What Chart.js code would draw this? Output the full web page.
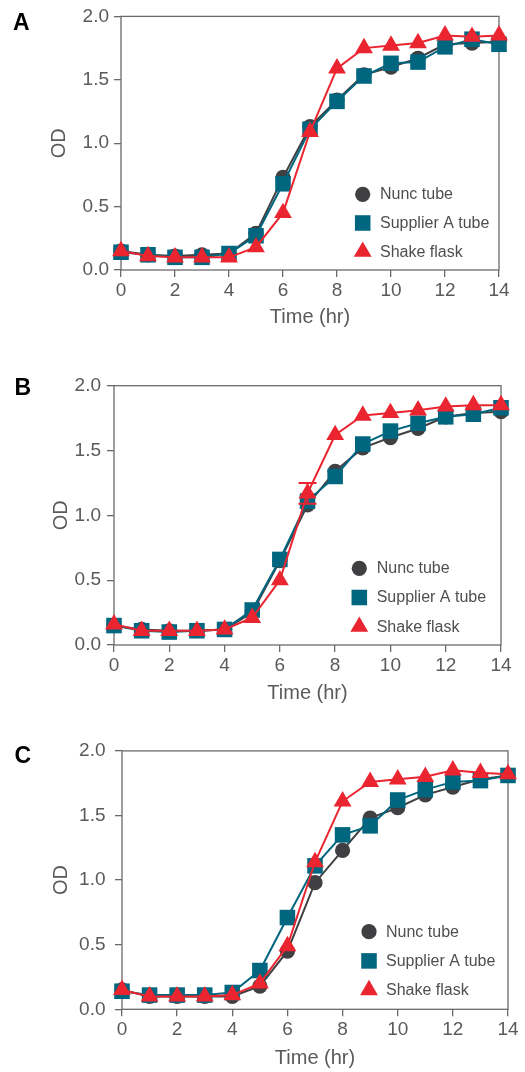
<!DOCTYPE html>
<html><head><meta charset="utf-8">
<script src="https://cdn.jsdelivr.net/npm/chart.js@4/dist/chart.umd.min.js"></script>
<style>
html,body{margin:0;padding:0;background:#fff;}
#wrap{position:relative;width:525px;height:1072px;overflow:hidden;background:#fff;}
canvas{position:absolute;left:0;}
</style></head>
<body><div id="wrap">
<canvas id="cA"></canvas><canvas id="cB"></canvas><canvas id="cC"></canvas>
</div>
<script>
// ---- data ----
const times = [0,1,2,3,4,5,6,7,8,9,10,11,12,13,14];
const xTickLabels = [0,2,4,6,8,10,12,14];
const yTickLabels = [0.0,0.5,1.0,1.5,2.0];
const seriesNames = ['Nunc tube','Supplier A tube','Shake flask'];
const panelLetters = ['A','B','C'];
const xTitle = 'Time (hr)';
const yTitle = 'OD';

const nuncA  = [0.15,0.12,0.11,0.12,0.13,0.29,0.73,1.13,1.34,1.54,1.60,1.67,1.78,1.79,1.80];
const suppA  = [0.14,0.12,0.10,0.10,0.13,0.27,0.68,1.11,1.33,1.53,1.63,1.64,1.76,1.82,1.78];
const shakeA = [0.15,0.11,0.10,0.10,0.10,0.18,0.45,1.09,1.59,1.75,1.77,1.79,1.85,1.84,1.85];

const nuncB  = [0.15,0.12,0.11,0.11,0.12,0.25,0.65,1.08,1.34,1.52,1.60,1.67,1.76,1.79,1.80];
const suppB  = [0.15,0.11,0.10,0.11,0.12,0.27,0.66,1.11,1.30,1.55,1.65,1.71,1.76,1.78,1.83];
const shakeB = [0.16,0.11,0.11,0.11,0.12,0.21,0.50,1.17,1.62,1.77,1.79,1.81,1.84,1.85,1.85];
const shakeErrB = [0,0,0,0,0,0,0,0.08,0,0,0,0,0,0,0];

const nuncC  = [0.15,0.10,0.10,0.10,0.10,0.18,0.45,0.98,1.23,1.48,1.56,1.66,1.72,1.78,1.81];
const suppC  = [0.14,0.11,0.11,0.11,0.13,0.30,0.71,1.11,1.35,1.42,1.62,1.70,1.76,1.77,1.81];
const shakeC = [0.15,0.10,0.10,0.10,0.11,0.20,0.49,1.14,1.61,1.76,1.78,1.80,1.85,1.83,1.82];

// ---- styles ----
const FONT = "'Liberation Sans', Arial, Helvetica, sans-serif";
const TEXT = '#5a5a5a';
const AXIS = '#6a6a6a';
const COLORS = ['#404043', '#00667f', '#ea2530'];
const STYLES = ['circle', 'rect', 'triangle'];
const RADII = [7.6, 11, 10.3];
const ORDERS = [3, 2, 1];

const layouts = [
  {id:'cA', top:0,   H:335, L:121, T:16,   R:499, B:270,   xTitleY:317.5, yTitleX:59, yPad:5,
   leg:{mx:362.7, tx:380, y0:194.3, dy:28.7}, lab:{x:13, base:30}},
  {id:'cB', top:360, H:350, L:114, T:25.7, R:501, B:285,   xTitleY:333.8, yTitleX:61, yPad:6,
   leg:{mx:359.3, tx:376.7, y0:208.3, dy:29.2}, lab:{x:14.5, base:35}},
  {id:'cC', top:730, H:342, L:122, T:20.7, R:508, B:279.3, xTitleY:328.7, yTitleX:61, yPad:9.5,
   leg:{mx:369, tx:386, y0:201.7, dy:29.2}, lab:{x:14.5, base:33}}
];
const panelData = [
  [nuncA, suppA, shakeA, null],
  [nuncB, suppB, shakeB, shakeErrB],
  [nuncC, suppC, shakeC, null]
];

Chart.defaults.font.family = FONT;
Chart.defaults.color = TEXT;

const framePlugin = {
  id:'frame',
  beforeDatasetsDraw(chart){
    const a = chart.chartArea, ctx = chart.ctx;
    ctx.save();
    ctx.strokeStyle = AXIS; ctx.lineWidth = 1.3;
    ctx.strokeRect(a.left, a.top, a.right - a.left, a.bottom - a.top);
    ctx.restore();
  }
};

const extrasPlugin = {
  id:'extras',
  afterDatasetsDraw(chart, args, opts){
    const ctx = chart.ctx, lay = opts.lay;
    const xs = chart.scales.x, ys = chart.scales.y;
    // error bars
    if (opts.err) {
      const ds = chart.data.datasets[2];
      ctx.save();
      ctx.strokeStyle = COLORS[2]; ctx.lineWidth = 2;
      opts.err.forEach((e, i) => {
        if (!e) return;
        const px = xs.getPixelForValue(times[i]);
        const v = ds.data[i].y;
        const y1 = ys.getPixelForValue(v + e), y2 = ys.getPixelForValue(v - e);
        ctx.beginPath();
        ctx.moveTo(px, y1); ctx.lineTo(px, y2);
        ctx.moveTo(px - 9, y1); ctx.lineTo(px + 9, y1);
        ctx.moveTo(px - 9, y2); ctx.lineTo(px + 9, y2);
        ctx.stroke();
      });
      ctx.restore();
    }
    // legend
    ctx.save();
    chart.data.datasets.forEach((ds, i) => {
      const y = lay.leg.y0 + i * lay.leg.dy;
      ctx.fillStyle = ds.pointBackgroundColor;
      ctx.strokeStyle = ds.pointBackgroundColor;
      Chart.helpers.drawPoint(ctx, {pointStyle: ds.pointStyle, radius: ds.pointRadius, rotation: 0, borderWidth: 0}, lay.leg.mx, y);
      ctx.fillStyle = '#4f4f4f';
      ctx.font = '16px ' + FONT;
      ctx.textBaseline = 'middle';
      ctx.textAlign = 'left';
      ctx.fillText(ds.label, lay.leg.tx, y + 0.5);
    });
    // panel letter
    ctx.fillStyle = '#000';
    ctx.font = 'bold 23px ' + FONT;
    ctx.textBaseline = 'alphabetic';
    ctx.fillText(opts.letter, lay.lab.x, lay.lab.base);
    ctx.restore();
  }
};

layouts.forEach((lay, p) => {
  const cv = document.getElementById(lay.id);
  cv.width = 525; cv.height = lay.H;
  cv.style.top = lay.top + 'px';
  cv.style.width = '525px'; cv.style.height = lay.H + 'px';
  const [nunc, supp, shake, err] = panelData[p];
  const series = [nunc, supp, shake];
  const xh = lay.xTitleY + 12 - lay.B;
  new Chart(cv, {
    type:'line',
    data:{
      datasets: series.map((vals, i) => ({
        label: seriesNames[i],
        data: times.map((t, k) => ({x:t, y:vals[k]})),
        borderColor: COLORS[i],
        backgroundColor: COLORS[i],
        pointBackgroundColor: COLORS[i],
        pointBorderColor: COLORS[i],
        pointBorderWidth: 0,
        pointStyle: STYLES[i],
        pointRadius: RADII[i],
        pointHoverRadius: RADII[i],
        borderWidth: 2,
        tension: 0,
        order: ORDERS[i],
        clip: false
      }))
    },
    options:{
      responsive:false,
      animation:false,
      devicePixelRatio:1,
      layout:{padding:{left:0, top:lay.T, right:525 - lay.R, bottom:lay.H - (lay.xTitleY + 12)}},
      plugins:{legend:{display:false}, tooltip:{enabled:false},
        extras:{lay:lay, err:err, letter:panelLetters[p]}},
      scales:{
        x:{
          type:'linear', min:0, max:14,
          afterFit(s){ s.height = xh; },
          afterBuildTicks(s){ s.ticks = xTickLabels.map(v => ({value:v})); },
          border:{display:false},
          grid:{display:true, drawOnChartArea:false, drawTicks:true, tickLength:7, color:AXIS, lineWidth:1.3},
          ticks:{padding:2, color:TEXT, font:{size:19}, maxRotation:0, autoSkip:false,
                 callback:(v) => String(v)},
          title:{display:true, text:xTitle, color:TEXT, font:{size:20}, padding:{top:0, bottom:0}}
        },
        y:{
          type:'linear', min:0, max:2,
          afterFit(s){ s.width = lay.L; },
          afterBuildTicks(s){ s.ticks = yTickLabels.map(v => ({value:v})); },
          border:{display:false},
          grid:{display:true, drawOnChartArea:false, drawTicks:true, tickLength:7, color:AXIS, lineWidth:1.3},
          ticks:{padding:lay.yPad, color:TEXT, font:{size:19}, autoSkip:false,
                 callback:(v) => Number(v).toFixed(1)},
          title:{display:true, text:yTitle, color:TEXT, font:{size:20}, padding:{top:lay.yTitleX - 12, bottom:0}}
        }
      }
    },
    plugins:[framePlugin, extrasPlugin]
  });
});
</script></body></html>
